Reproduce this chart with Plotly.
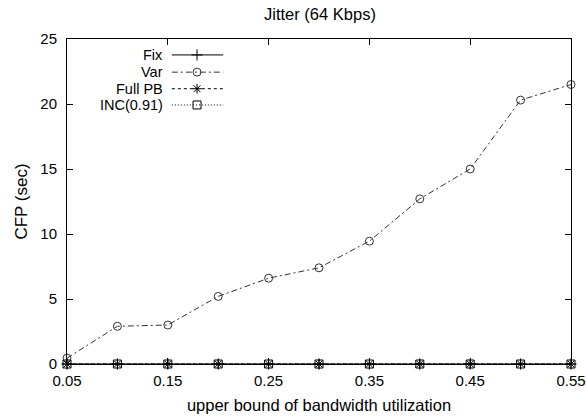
import plotly.graph_objects as go

x_vals = [0.05, 0.10, 0.15, 0.20, 0.25, 0.30, 0.35, 0.40, 0.45, 0.50, 0.55]
fix = [0, 0, 0, 0, 0, 0, 0, 0, 0, 0, 0]
var = [0.45, 2.9, 3.0, 5.2, 6.6, 7.4, 9.45, 12.7, 15.0, 20.3, 21.5]
full_pb = [0, 0, 0, 0, 0, 0, 0, 0, 0, 0, 0]
inc = [0, 0, 0, 0, 0, 0, 0, 0, 0, 0, 0]

series_names = ["Fix", "Var", "Full PB", "INC(0.91)"]
series_data = [fix, var, full_pb, inc]
symbols = ["cross-thin-open", "circle-open", "asterisk-open", "square-open"]
dashes = ["solid", "6px,3px,2px,3px", "3px,3px", "1px,2px"]
colors = ["#000000", "#333333", "#000000", "#000000"]

x_ticks = [0.05, 0.15, 0.25, 0.35, 0.45, 0.55]
y_ticks = [0, 5, 10, 15, 20, 25]

FONT = "Liberation Sans, Arial, sans-serif"

fig = go.Figure()
for name, data, sym, dash, col in zip(series_names, series_data, symbols, dashes, colors):
    fig.add_trace(go.Scatter(
        x=x_vals, y=data, mode="lines+markers", name=name,
        line=dict(color=col, width=1, dash=dash),
        marker=dict(symbol=sym, size=8, color=col, line=dict(width=1, color=col)),
        showlegend=False, cliponaxis=False,
    ))

# manual gnuplot-style legend
leg_y = [0.951, 0.898, 0.847, 0.797]
for name, sym, dash, col, ly in zip(series_names, symbols, dashes, colors, leg_y):
    fig.add_annotation(x=0.194, y=ly, xref="paper", yref="paper", text=name,
                       showarrow=False, xanchor="right", yanchor="middle",
                       font=dict(family=FONT, size=14.5, color="#000"))
    fig.add_trace(go.Scatter(
        x=[0.208, 0.31], y=[ly, ly], xaxis="x2", yaxis="y2", mode="lines",
        line=dict(color=col, width=1, dash=dash), showlegend=False, hoverinfo="skip"))
    fig.add_trace(go.Scatter(
        x=[0.258], y=[ly], xaxis="x2", yaxis="y2", mode="markers",
        marker=dict(symbol=sym, size=8, color=col, line=dict(width=1, color=col)),
        showlegend=False, hoverinfo="skip"))

axis_common = dict(showline=True, linecolor="#000", linewidth=1, mirror="ticks",
                   ticks="inside", ticklen=6, tickcolor="#000", showgrid=False,
                   zeroline=False, automargin=False, ticklabeloverflow="allow",
                   tickfont=dict(family=FONT, size=15, color="#000"))

fig.update_layout(
    width=586, height=420,
    margin=dict(l=67, r=15, t=39, b=56),
    paper_bgcolor="white", plot_bgcolor="white",
    title=dict(text="Jitter (64 Kbps)", x=0.546, xanchor="center", y=0.966, yanchor="middle",
               font=dict(family=FONT, size=16.5, color="#000")),
    xaxis=dict(range=[0.05, 0.55], tickvals=x_ticks, ticktext=[f"{v:.2f}" for v in x_ticks],
               ticklabelstandoff=3,
               title=dict(text="upper bound of bandwidth utilization", standoff=11,
                          font=dict(family=FONT, size=16.5, color="#000")),
               **axis_common),
    yaxis=dict(range=[0, 25], tickvals=y_ticks, ticklabelstandoff=6,
               title=dict(text="CFP (sec)", standoff=8,
                          font=dict(family=FONT, size=17, color="#000")),
               **axis_common),
    xaxis2=dict(overlaying="x", range=[0, 1], visible=False),
    yaxis2=dict(overlaying="y", range=[0, 1], visible=False),
)

fig.write_html("out.html")
